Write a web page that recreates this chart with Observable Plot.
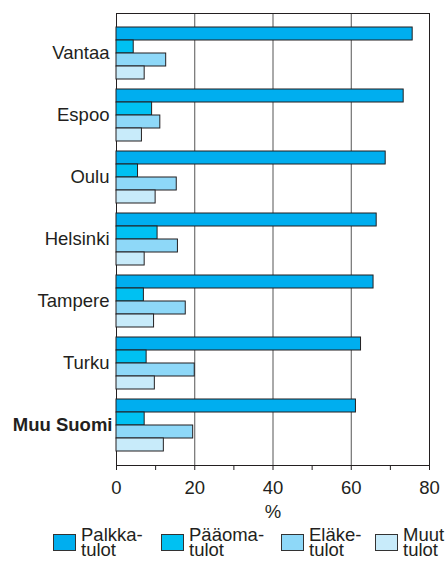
<!DOCTYPE html>
<html>
<head>
<meta charset="utf-8">
<script src="https://cdn.jsdelivr.net/npm/d3@7"></script>
<script src="https://cdn.jsdelivr.net/npm/@observablehq/plot@0.6"></script>
<style>
  html, body { margin: 0; padding: 0; background: #fff; overflow: hidden; }
  body { width: 447px; height: 561px; font-family: "Liberation Sans", Arial, sans-serif; color: #231f20; }
  #chart { position: relative; width: 447px; height: 522px; }
  #chart svg { position: absolute; left: 0; top: 0; }
  #legend { position: relative; width: 447px; height: 39px; }
  .item { position: absolute; top: 5px; display: flex; align-items: flex-start; }
  .sw { width: 21px; height: 15px; border: 1px solid #333; margin-top: 7px; margin-right: 5px; }
  .lab { font-size: 18.5px; line-height: 15px; white-space: pre; }
</style>
</head>
<body>
<div id="chart"></div>
<div id="legend"></div>
<script>
const cities = ["Vantaa", "Espoo", "Oulu", "Helsinki", "Tampere", "Turku", "Muu Suomi"];
const boldCity = "Muu Suomi";
const series = ["Palkkatulot", "Pääomatulot", "Eläketulot", "Muut tulot"];
const legendLabels = ["Palkka-\ntulot", "Pääoma-\ntulot", "Eläke-\ntulot", "Muut\ntulot"];
const palkka = [75.7, 73.4, 68.8, 66.5, 65.7, 62.5, 61.2];
const paaoma = [4.4, 9.1, 5.5, 10.5, 7.0, 7.7, 7.2];
const elake  = [12.7, 11.2, 15.4, 15.7, 17.7, 20.0, 19.6];
const muut   = [7.2, 6.5, 10.0, 7.2, 9.6, 9.8, 12.1];
const xTicks = [0, 10, 20, 30, 40, 50, 60, 70, 80];
const gridTicks = [20, 40, 60];
const colors = ["#00aeef", "#00c1f2", "#8ed8f8", "#c8ebfa"];

const valuesBySeries = [palkka, paaoma, elake, muut];
const data = [];
cities.forEach((c, i) => series.forEach((s, j) => data.push({city: c, series: s, value: valuesBySeries[j][i]})));

const W = 447, H = 522, mL = 116, mR = 18, mT = 13, mB = 57;
const font = "Liberation Sans, Arial, sans-serif";

const back = Plot.plot({
  width: W, height: H,
  marginLeft: mL, marginRight: mR, marginTop: mT, marginBottom: mB,
  style: {fontFamily: font, fontSize: "18.5px", color: "#231f20", background: "transparent"},
  x: {domain: [0, 80], ticks: xTicks, tickFormat: d => d % 20 === 0 ? d : "", tickSize: 5, tickPadding: 10, label: null},
  y: {axis: null, domain: [0, 1]},
  marks: [
    Plot.ruleX(gridTicks, {stroke: "#555", strokeWidth: 1}),
    Plot.frame({stroke: "#231f20", strokeWidth: 1}),
    Plot.text(["%"], {frameAnchor: "bottom", dy: 52, fontSize: 18.5, fill: "#231f20"})
  ]
});

const front = Plot.plot({
  width: W, height: H,
  marginLeft: mL, marginRight: mR, marginTop: mT, marginBottom: mB,
  style: {fontFamily: font, fontSize: "18.5px", color: "#231f20", background: "transparent"},
  x: {domain: [0, 80], axis: null},
  y: {domain: series, paddingInner: 0, paddingOuter: 0, axis: null},
  fy: {domain: cities, paddingInner: 0.143, paddingOuter: 0.211, axis: null},
  color: {domain: series, range: colors},
  marks: [
    Plot.barX(data, {x: "value", y: "series", fy: "city", fill: "series", stroke: "#231f20", strokeWidth: 1}),
    Plot.text(cities.filter(d => d !== boldCity), {fy: d => d, text: d => d, frameAnchor: "left", textAnchor: "end", dx: -7,
      fontSize: 18.5, fill: "#231f20"}),
    Plot.text([boldCity], {fy: d => d, text: d => d, frameAnchor: "left", textAnchor: "end", dx: -4,
      fontSize: 18.5, fontWeight: "bold", fill: "#231f20"})
  ]
});

const chart = document.getElementById("chart");
chart.appendChild(back);
chart.appendChild(front);

const lefts = [53, 161, 281, 375];
const legend = document.getElementById("legend");
series.forEach((s, i) => {
  const it = document.createElement("div");
  it.className = "item";
  it.style.left = lefts[i] + "px";
  const sw = document.createElement("div");
  sw.className = "sw";
  sw.style.background = colors[i];
  const lab = document.createElement("div");
  lab.className = "lab";
  lab.textContent = legendLabels[i];
  it.appendChild(sw);
  it.appendChild(lab);
  legend.appendChild(it);
});
</script>
</body>
</html>
